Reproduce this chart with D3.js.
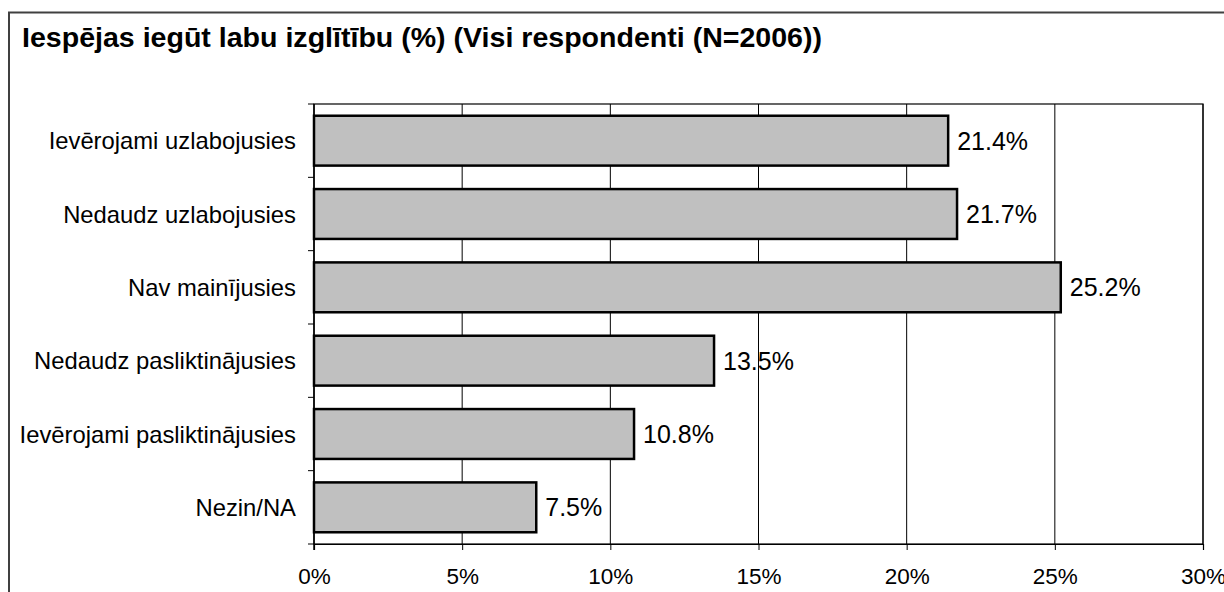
<!DOCTYPE html>
<html>
<head>
<meta charset="utf-8">
<script src="https://cdn.jsdelivr.net/npm/d3@7"></script>
<style>
  html, body { margin: 0; padding: 0; background: #fff; }
  svg { display: block; font-family: "Liberation Sans", Arial, sans-serif; }
</style>
</head>
<body>
<svg id="chart" width="1224" height="592"></svg>
<script>
// Chart data
const TITLE = 'Iespējas iegūt labu izglītību (%) (Visi respondenti (N=2006))';
const categories = [
    'Ievērojami uzlabojusies',
    'Nedaudz uzlabojusies',
    'Nav mainījusies',
    'Nedaudz pasliktinājusies',
    'Ievērojami pasliktinājusies',
    'Nezin/NA'
];
const values = [21.4, 21.7, 25.2, 13.5, 10.8, 7.5];
const xTicks = [0, 5, 10, 15, 20, 25, 30];

const svg = d3.select('#chart');
const plot = { left: 314, top: 104, right: 1203, bottom: 544 };

// Outer chart border (runs off the right and bottom edges)
svg.append('rect')
    .attr('x', 9).attr('y', 12.5)
    .attr('width', 1240).attr('height', 600)
    .attr('fill', 'none')
    .attr('stroke', '#404040')
    .attr('stroke-width', 2);

// Title - the original font is a bit wider than Arial bold
svg.append('text')
    .attr('x', 22).attr('y', 46.5)
    .attr('font-size', 27)
    .attr('font-weight', 'bold')
    .attr('textLength', 800)
    .attr('lengthAdjust', 'spacingAndGlyphs')
    .attr('fill', '#000')
    .text(TITLE);

// Scales
const x = d3.scaleLinear()
    .domain([0, 30])
    .range([plot.left, plot.right]);

const y = d3.scaleBand()
    .domain(categories)
    .range([plot.top, plot.bottom])
    .paddingInner(0.32)
    .paddingOuter(0.16);

// Vertical gridlines
svg.append('g')
    .selectAll('line')
    .data(xTicks.slice(1))
    .enter()
    .append('line')
    .attr('x1', d => x(d)).attr('x2', d => x(d))
    .attr('y1', plot.top).attr('y2', plot.bottom)
    .attr('stroke', '#000')
    .attr('stroke-width', 1);

// Plot frame
svg.append('rect')
    .attr('x', plot.left).attr('y', plot.top)
    .attr('width', plot.right - plot.left)
    .attr('height', plot.bottom - plot.top)
    .attr('fill', 'none')
    .attr('stroke', '#000')
    .attr('stroke-width', 1.2);

// X axis
const xAxis = svg.append('g')
    .attr('transform', `translate(0,${plot.bottom})`)
    .call(d3.axisBottom(x)
        .tickValues(xTicks)
        .tickFormat(d => d + '%')
        .tickSize(6)
        .tickPadding(18));
xAxis.select('.domain').attr('stroke', '#000').attr('stroke-width', 1.2);
xAxis.selectAll('.tick line').attr('stroke', '#000');
xAxis.selectAll('.tick text')
    .attr('font-size', 22.5)
    .attr('font-family', '"Liberation Sans", Arial, sans-serif')
    .attr('fill', '#000');

// Y axis: tick marks between categories
const step = y.step();
const boundaries = d3.range(categories.length + 1).map(i => plot.top + i * step);
svg.append('g')
    .selectAll('line')
    .data(boundaries)
    .enter()
    .append('line')
    .attr('x1', plot.left - 6).attr('x2', plot.left)
    .attr('y1', d => d).attr('y2', d => d)
    .attr('stroke', '#000')
    .attr('stroke-width', 1);

svg.append('line')
    .attr('x1', plot.left).attr('x2', plot.left)
    .attr('y1', plot.top).attr('y2', plot.bottom + 6)
    .attr('stroke', '#000')
    .attr('stroke-width', 1.5);

// Category labels
svg.append('g')
    .selectAll('text')
    .data(categories)
    .enter()
    .append('text')
    .attr('x', 296)
    .attr('y', d => y(d) + y.bandwidth() / 2)
    .attr('text-anchor', 'end')
    .attr('dominant-baseline', 'central')
    .attr('font-size', 23.8)
    .attr('fill', '#000')
    .text(d => d);

// Bars
svg.append('g')
    .selectAll('rect')
    .data(values)
    .enter()
    .append('rect')
    .attr('x', x(0))
    .attr('y', (d, i) => y(categories[i]))
    .attr('width', d => x(d) - x(0))
    .attr('height', y.bandwidth())
    .attr('fill', '#c0c0c0')
    .attr('stroke', '#000')
    .attr('stroke-width', 2.5);

// Value labels
svg.append('g')
    .selectAll('text')
    .data(values)
    .enter()
    .append('text')
    .attr('x', d => x(d) + 9)
    .attr('y', (d, i) => y(categories[i]) + y.bandwidth() / 2)
    .attr('dominant-baseline', 'central')
    .attr('font-size', 25)
    .attr('fill', '#000')
    .text(d => d.toFixed(1) + '%');
</script>
</body>
</html>
